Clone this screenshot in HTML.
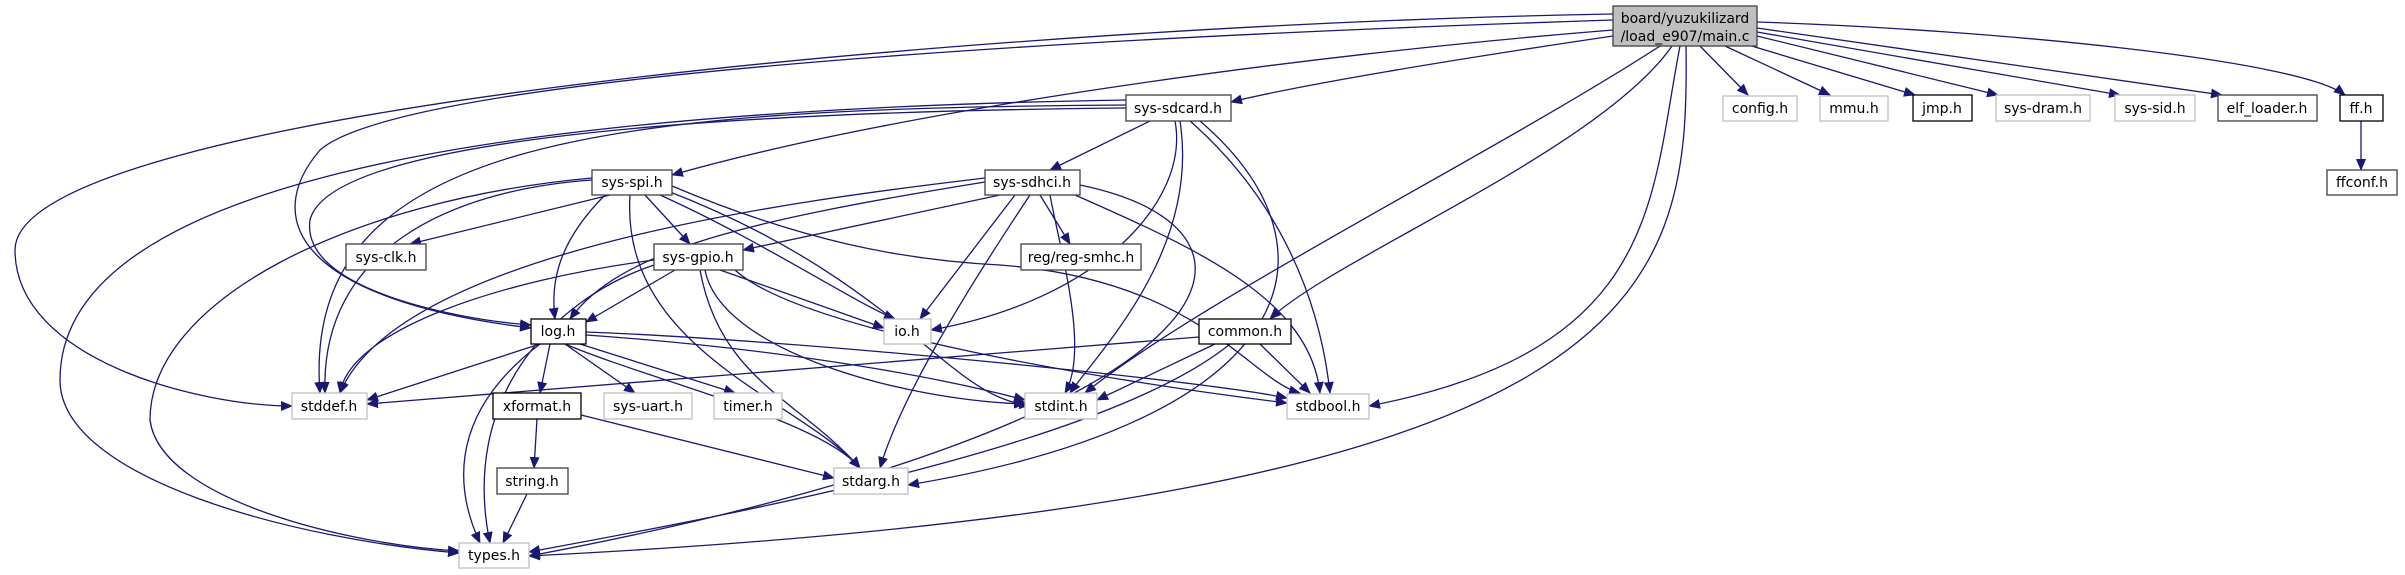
<!DOCTYPE html>
<html><head><meta charset="utf-8"><style>
html,body{margin:0;padding:0;background:#fff;}
svg{display:block;}
text{font-family:"DejaVu Sans","Liberation Sans",sans-serif;font-size:14px;fill:#000;}
</style></head><body>
<svg width="2405" height="575" viewBox="0 0 2405 575" xmlns="http://www.w3.org/2000/svg">
<defs>
<marker id="a" markerUnits="userSpaceOnUse" markerWidth="12" markerHeight="10" refX="11" refY="5" orient="auto">
<polygon points="0,0 12,5 0,10" fill="#191970"/>
</marker>
</defs>
<g fill="none" stroke="#191970" stroke-width="1.3" marker-end="url(#a)">
<path d="M1613,36 C1450,60 1300,85 1231,102"/>
<path d="M1613,30 C1300,55 900,110 672,175"/>
<path d="M1613,20 C1000,40 400,80 320,150 C260,220 300,300 531,328"/>
<path d="M1613,14 C1000,25 15,110 15,250 C15,360 200,406 292,406"/>
<path d="M1660,46 C1500,150 1200,300 1085,393"/>
<path d="M1672,46 C1600,150 1330,260 1270,319"/>
<path d="M1680,46 C1650,200 1660,350 1369,406"/>
<path d="M1686,46 C1690,300 1650,500 529,556"/>
<path d="M1700,46 L1748,95"/>
<path d="M1725,46 L1830,95"/>
<path d="M1745,44 L1915,95"/>
<path d="M1757,36 L1998,95"/>
<path d="M1757,32 L2120,95"/>
<path d="M1757,28 L2222,95"/>
<path d="M1757,22 C2000,30 2300,60 2345,95"/>
<path d="M2361,121 L2361,170"/>
<path d="M1126,105 C600,108 300,140 320,393"/>
<path d="M1126,108 C700,112 330,140 310,220 C300,290 460,320 531,325"/>
<path d="M1126,100 C500,110 60,180 60,380 C60,480 300,540 459,553"/>
<path d="M1150,121 L1050,170"/>
<path d="M1175,121 C1190,200 1100,300 931,330"/>
<path d="M1180,121 C1200,250 1100,350 1070,393"/>
<path d="M1190,121 C1280,200 1320,300 1330,393"/>
<path d="M1200,121 C1350,250 1300,420 908,485"/>
<path d="M592,180 C450,190 320,250 325,393"/>
<path d="M592,178 C350,200 150,300 150,420 C160,500 350,545 459,551"/>
<path d="M610,195 L410,244"/>
<path d="M645,195 L690,244"/>
<path d="M605,195 C560,240 550,280 555,319"/>
<path d="M660,195 C760,240 850,300 895,319"/>
<path d="M665,190 C900,280 950,400 1030,405"/>
<path d="M672,186 C800,240 900,260 1000,265 C1200,280 1250,380 1300,393"/>
<path d="M630,195 C620,350 800,400 860,468"/>
<path d="M985,178 C800,200 400,250 340,393"/>
<path d="M985,182 C750,220 620,250 570,319"/>
<path d="M1000,195 L743,250"/>
<path d="M1040,195 L1070,244"/>
<path d="M1015,195 L920,319"/>
<path d="M1050,195 C1060,250 1090,350 1065,393"/>
<path d="M1075,195 C1200,250 1310,300 1320,393"/>
<path d="M1030,195 C960,300 900,400 880,468"/>
<path d="M1080,185 C1300,230 1250,420 529,556"/>
<path d="M654,260 C500,280 350,330 340,393"/>
<path d="M675,270 L586,322"/>
<path d="M654,265 C550,300 460,400 490,543"/>
<path d="M720,270 L884,328"/>
<path d="M705,270 C720,350 900,400 1025,404"/>
<path d="M735,270 C800,330 1100,380 1287,403"/>
<path d="M700,270 C720,380 800,400 860,468"/>
<path d="M540,344 L367,400"/>
<path d="M550,344 L540,393"/>
<path d="M565,344 L635,393"/>
<path d="M580,344 L735,393"/>
<path d="M586,335 C800,350 950,380 1025,400"/>
<path d="M586,332 C800,340 1200,380 1287,398"/>
<path d="M540,344 C440,420 460,500 480,543"/>
<path d="M565,344 C650,380 820,420 860,468"/>
<path d="M537,419 L534,468"/>
<path d="M581,415 L834,478"/>
<path d="M527,494 L503,543"/>
<path d="M1199,337 L367,404"/>
<path d="M1215,344 L1097,400"/>
<path d="M1260,344 L1310,393"/>
<path d="M1230,344 C1100,450 700,520 529,552"/>
</g>
<g stroke-width="1.3">
<rect x="1613" y="6" width="144" height="40" fill="#bfbfbf" stroke="#404040"/>
<text x="1685" y="23" text-anchor="middle">board/yuzukilizard</text>
<text x="1685" y="41" text-anchor="middle">/load_e907/main.c</text>
</g>
<g fill="#fff" stroke-width="1.3">
<rect x="1126" y="95" width="105" height="26" stroke="#404040"/>
<rect x="1723" y="96" width="74" height="25" stroke="#bfbfbf"/>
<rect x="1820" y="96" width="68" height="25" stroke="#bfbfbf"/>
<rect x="1913" y="95" width="59" height="26" stroke="#000"/>
<rect x="1996" y="95" width="94" height="26" stroke="#bfbfbf"/>
<rect x="2115" y="95" width="80" height="26" stroke="#bfbfbf"/>
<rect x="2218" y="95" width="99" height="26" stroke="#404040"/>
<rect x="2340" y="95" width="43" height="26" stroke="#000"/>
<rect x="2327" y="170" width="70" height="25" stroke="#404040"/>
<rect x="592" y="170" width="80" height="25" stroke="#404040"/>
<rect x="985" y="170" width="95" height="25" stroke="#404040"/>
<rect x="346" y="244" width="80" height="26" stroke="#404040"/>
<rect x="654" y="244" width="89" height="26" stroke="#404040"/>
<rect x="1021" y="244" width="120" height="26" stroke="#404040"/>
<rect x="531" y="319" width="55" height="25" stroke="#000"/>
<rect x="884" y="319" width="47" height="25" stroke="#bfbfbf"/>
<rect x="1199" y="319" width="92" height="25" stroke="#000"/>
<rect x="292" y="393" width="75" height="26" stroke="#bfbfbf"/>
<rect x="493" y="393" width="88" height="26" stroke="#000"/>
<rect x="604" y="393" width="88" height="26" stroke="#bfbfbf"/>
<rect x="714" y="393" width="68" height="26" stroke="#bfbfbf"/>
<rect x="1025" y="393" width="72" height="26" stroke="#bfbfbf"/>
<rect x="1287" y="394" width="82" height="25" stroke="#bfbfbf"/>
<rect x="497" y="468" width="71" height="26" stroke="#404040"/>
<rect x="834" y="468" width="74" height="26" stroke="#bfbfbf"/>
<rect x="459" y="543" width="70" height="25" stroke="#bfbfbf"/>
</g>
<g text-anchor="middle">
<text x="1178" y="113">sys-sdcard.h</text>
<text x="1760" y="113">config.h</text>
<text x="1854" y="113">mmu.h</text>
<text x="1942" y="113">jmp.h</text>
<text x="2043" y="113">sys-dram.h</text>
<text x="2155" y="113">sys-sid.h</text>
<text x="2267" y="113">elf_loader.h</text>
<text x="2361" y="113">ff.h</text>
<text x="2362" y="187">ffconf.h</text>
<text x="632" y="187">sys-spi.h</text>
<text x="1032" y="187">sys-sdhci.h</text>
<text x="386" y="262">sys-clk.h</text>
<text x="698" y="262">sys-gpio.h</text>
<text x="1081" y="262">reg/reg-smhc.h</text>
<text x="558" y="336">log.h</text>
<text x="907" y="336">io.h</text>
<text x="1245" y="336">common.h</text>
<text x="329" y="411">stddef.h</text>
<text x="537" y="411">xformat.h</text>
<text x="648" y="411">sys-uart.h</text>
<text x="748" y="411">timer.h</text>
<text x="1061" y="411">stdint.h</text>
<text x="1328" y="411">stdbool.h</text>
<text x="532" y="486">string.h</text>
<text x="871" y="486">stdarg.h</text>
<text x="494" y="560">types.h</text>
</g>
</svg>
</body></html>
